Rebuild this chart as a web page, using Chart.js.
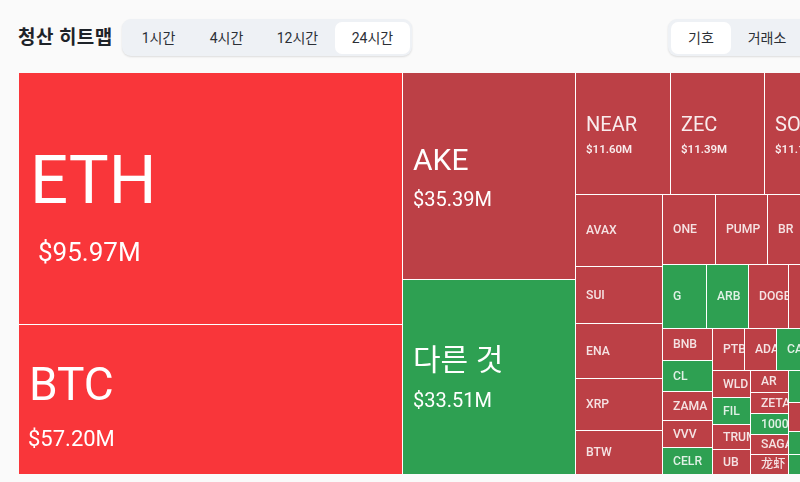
<!DOCTYPE html>
<html lang="ko">
<head>
<meta charset="utf-8">
<title>청산 히트맵</title>
<script src="https://cdn.jsdelivr.net/npm/chart.js@4/dist/chart.umd.js"></script>
<style>
  html, body { margin: 0; height: 100%; overflow: hidden; background: #fafafa; }
  body { position: relative; width: 800px; height: 482px; font-family: Roboto, "Noto Sans CJK KR", sans-serif; color: #2b2f36; }
  h1 { position: absolute; left: 18px; top: 24px; margin: 0; font-size: 19px; line-height: 28px; font-weight: 700; letter-spacing: .4px; color: #1e2329; white-space: nowrap; }
  .tabs { position: absolute; top: 19px; height: 37px; background: #eef1f5; border-radius: 9px; box-shadow: 0 1px 2px rgba(0,0,0,.12); }
  .tabs span { position: absolute; top: 3px; height: 32px; line-height: 32px; text-align: center; font-size: 14px; border-radius: 7px; white-space: nowrap; }
  .tabs span.on { background: #fff; }
  #wrap { position: absolute; left: 19px; top: 73px; width: 837px; height: 401px; }
</style>
</head>
<body>
<h1>청산 히트맵</h1>
<div class="tabs" style="left:122px;width:290px">
  <span style="left:0;width:73px">1시간</span>
  <span style="left:68px;width:73px">4시간</span>
  <span style="left:139px;width:73px">12시간</span>
  <span class="on" style="left:213px;width:75px">24시간</span>
</div>
<div class="tabs" style="left:668px;width:160px">
  <span class="on" style="left:3px;width:60px">기호</span>
  <span style="left:63px;width:72px">거래소</span>
</div>
<div id="wrap"><canvas id="chart" width="837" height="401"></canvas></div>

<script>
// Cells, in $M. Names starting with "…" run off the right edge of the picture
const symbols = [
  'ETH', 'BTC', 'AKE', '다른 것', 'NEAR', 'ZEC', 'SOL',
  'AVAX', 'SUI', 'ENA', 'XRP', 'BTW',
  'ONE', 'PUMP', 'BR', '…a',
  'G', 'ARB', 'DOGE', '…b', '…c',
  'BNB', 'CL', 'ZAMA', 'VVV', 'CELR',
  'PTB', 'ADA', 'CAKE', '…d',
  'WLD', 'FIL', 'TRUMP', 'UB',
  'AR', 'ZETA', '1000P', 'SAGA', '龙虾',
  '…e', '…f', '…g', '…h', '…i'
];
const amounts = [
  95.97, 57.20, 35.39, 33.51, 11.60, 11.39, 11.10,
  6.24, 5.00, 4.80, 4.51, 3.83,
  3.65, 3.59, 3.46, 2.73,
  2.79, 2.67, 2.55, 2.42, 1.94,
  1.59, 1.54, 1.44, 1.34, 1.34,
  1.35, 1.35, 1.35, 2.05,
  1.02, 1.02, 0.945, 0.926,
  0.83, 0.79, 0.79, 0.76, 0.74,
  1.02, 0.92, 0.70, 0.65, 3.787
];
const sides = [
  'hot', 'hot', 'down', 'up', 'down', 'down', 'down',
  'down', 'down', 'down', 'down', 'down',
  'down', 'down', 'down', 'down',
  'up', 'up', 'down', 'down', 'down',
  'down', 'up', 'down', 'down', 'up',
  'down', 'down', 'up', 'down',
  'down', 'up', 'down', 'down',
  'down', 'down', 'up', 'down', 'down',
  'up', 'down', 'up', 'up', 'down'
];

// How the cells nest: each list splits its space the other way from its parent
const cellTree = [
  ['ETH', 'BTC'],
  ['AKE', '다른 것'],
  [
    ['NEAR', 'ZEC', 'SOL'],
    [
      ['AVAX', 'SUI', 'ENA', 'XRP', 'BTW'],
      [
        ['ONE', 'PUMP', 'BR', '…a'],
        ['G', 'ARB', 'DOGE', '…b', '…c'],
        [
          ['BNB', 'CL', 'ZAMA', 'VVV', 'CELR'],
          [
            ['PTB', 'ADA', 'CAKE', '…d'],
            [
              ['WLD', 'FIL', 'TRUMP', 'UB'],
              ['AR', 'ZETA', '1000P', 'SAGA', '龙虾'],
              ['…e', '…f', '…g', '…h'],
              ['…i']
            ]
          ]
        ]
      ]
    ]
  ]
];

const SIDE_COLORS = { hot: '#f9363a', down: '#bc4046', up: '#2ea052' };

const amountOf = name => amounts[symbols.indexOf(name)];
const totalOf = node => Array.isArray(node) ? node.reduce((sum, n) => sum + totalOf(n), 0) : amountOf(node);

/**
 * Walk the tree and give every cell its range in data units.
 * x runs over the total amount and y over 0..1, so a cell's area is its amount.
 */
function layoutCells(node, x0, x1, y0, y1, horizontal, out) {
  if (!Array.isArray(node)) {
    const i = symbols.indexOf(node);
    out.push({ symbol: node, amount: amounts[i], side: sides[i], x0, x1, y0, y1 });
    return out;
  }
  const total = totalOf(node);
  let pos = horizontal ? x0 : y0;
  for (const child of node) {
    const share = totalOf(child) / total * (horizontal ? x1 - x0 : y1 - y0);
    if (horizontal) layoutCells(child, pos, pos + share, y0, y1, false, out);
    else layoutCells(child, x0, x1, pos, pos + share, true, out);
    pos += share;
  }
  return out;
}

// Label sizes go by how big the cell is
function labelStyle(amount) {
  if (amount >= 90) return { name: '400 67px', value: '400 26px', nameX: 11, valueX: 19, nameDy: -12, valueDy: 56, alpha: 1 };
  if (amount >= 50) return { name: '400 46px', value: '400 22px', nameX: 10, valueX: 9, nameDy: -11, valueDy: 41, alpha: 1 };
  if (amount >= 30) return { name: '400 30px', value: '400 20px', nameX: 11, valueX: 11, nameDy: -14, valueDy: 25, alpha: 1 };
  if (amount >= 10) return { name: '400 20px', value: '600 11.5px', nameX: 11, valueX: 11, nameDy: -8, valueDy: 17, alpha: 0.9 };
  return { name: '500 12.2px', value: null, nameX: 11, nameDy: 1, alpha: 0.85 };
}

const FONT_STACK = 'Roboto, "Noto Sans CJK KR", "Noto Sans CJK SC", sans-serif';

class HeatCell extends Chart.Element {
  static id = 'heatCell';
  static defaults = {};

  draw(ctx) {
    const { left, top, right, bottom, raw } = this;
    ctx.save();
    ctx.beginPath();
    ctx.rect(left, top, right - left, bottom - top);
    ctx.clip();
    ctx.fillStyle = SIDE_COLORS[raw.side];
    ctx.fillRect(left, top, right - left, bottom - top);

    // white hairline on the left and top, the neighbour supplies the rest
    ctx.fillStyle = '#ffffff';
    if (left > 0) ctx.fillRect(left, top, 1, bottom - top);
    if (top > 0) ctx.fillRect(left, top, right - left, 1);

    if (!raw.symbol.startsWith('…')) this.drawLabel(ctx);
    ctx.restore();
  }

  drawLabel(ctx) {
    const { left, top, bottom, raw } = this;
    const style = labelStyle(raw.amount);
    const mid = (top + bottom) / 2;
    ctx.textBaseline = 'middle';
    ctx.fillStyle = `rgba(255,255,255,${style.alpha})`;
    ctx.font = `${style.name} ${FONT_STACK}`;
    ctx.fillText(raw.symbol, left + style.nameX, mid + style.nameDy);
    if (style.value) {
      ctx.font = `${style.value} ${FONT_STACK}`;
      ctx.fillText('$' + raw.amount.toFixed(2) + 'M', left + style.valueX, mid + style.valueDy);
    }
  }
}

class HeatmapController extends Chart.DatasetController {
  static id = 'heatmap';
  static defaults = { datasetElementType: false, dataElementType: 'heatCell' };

  update() {
    const meta = this._cachedMeta;
    const { x: xScale, y: yScale } = this.chart.scales;
    meta.data.forEach((cell, i) => {
      const raw = this.getDataset().data[i];
      Object.assign(cell, {
        raw,
        left: Math.round(xScale.getPixelForValue(raw.x0)),
        right: Math.round(xScale.getPixelForValue(raw.x1)),
        top: Math.round(yScale.getPixelForValue(raw.y0)),
        bottom: Math.round(yScale.getPixelForValue(raw.y1))
      });
    });
  }
}

Chart.register(HeatCell, HeatmapController);

const grandTotal = totalOf(cellTree);

new Chart(document.getElementById('chart'), {
  type: 'heatmap',
  data: {
    datasets: [{
      data: layoutCells(cellTree, 0, grandTotal, 0, 1, true, [])
    }]
  },
  options: {
    responsive: false,
    animation: false,
    parsing: false,
    events: [],
    layout: { padding: 0 },
    plugins: { legend: { display: false }, tooltip: { enabled: false } },
    scales: {
      x: { type: 'linear', display: false, min: 0, max: grandTotal },
      y: { type: 'linear', display: false, min: 0, max: 1, reverse: true }
    }
  }
});
</script>
</body>
</html>
